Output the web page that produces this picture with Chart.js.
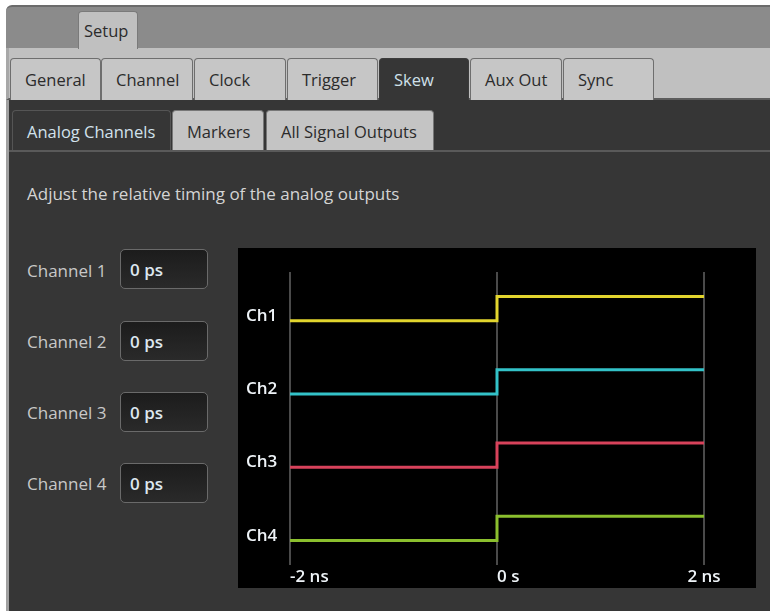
<!DOCTYPE html>
<html>
<head>
<meta charset="utf-8">
<script src="https://cdn.jsdelivr.net/npm/chart.js@4.4.1/dist/chart.umd.min.js"></script>
<style>
  body { margin: 0; width: 770px; height: 611px; background: #fff; font-family: "Open Sans", sans-serif; font-size: 16.5px; overflow: hidden; position: relative; }
  .abs { position: absolute; box-sizing: border-box; }
  #topband { left: 6px; top: 5px; width: 764px; height: 43px; background: #8b8b8b; border-top: 2px solid #6b6b6b; border-top-left-radius: 6px; }
  #tabrow { left: 6px; top: 48px; width: 764px; height: 52px; background: #c0c0c0; border-bottom: 2px solid #5c5c5c; border-left: 3px solid #a8a8a8; }
  #panel { left: 6px; top: 100px; width: 764px; height: 511px; background: #363636; border-left: 3px solid #a0a0a0; }
  .tab { height: 42px; top: 58px; background: #c6c6c6; border: 1px solid #6e6e6e; border-bottom: none; border-radius: 4px 4px 0 0; color: #2b2b2b; line-height: 42px; padding-left: 14px; white-space: nowrap; }
  .tab.active { background: #363636; border-color: #3c3c3c; color: #cfe0ea; }
  .sub { top: 110px; height: 40px; background: #c4c4c4; border: 1px solid #777; border-bottom: none; border-radius: 4px 4px 0 0; color: #2b2b2b; line-height: 42px; padding-left: 14px; white-space: nowrap; }
  .sub.active { background: #363636; border-color: #555; color: #d2e2ec; }
  #subline { left: 9px; top: 150px; width: 761px; height: 2px; background: #5a5a5a; }
  #setup { left: 78px; top: 11px; width: 60px; height: 38px; background: #c0c0c0; border: 1px solid #7a7a7a; border-bottom: none; border-radius: 4px 4px 0 0; color: #2b2b2b; line-height: 38px; padding-left: 5px; }
  #hint { left: 27px; top: 181px; color: #d4d4d4; font-size: 17px; line-height: 26px; white-space: nowrap; }
  .chlabel { left: 27px; color: #c8c8c8; font-size: 17px; line-height: 26px; white-space: nowrap; }
  .input { left: 120px; width: 88px; height: 40px; background: linear-gradient(#1c1c1c, #2a2a2a); border: 1.5px solid #6a6a6a; border-radius: 5px; color: #dde7ef; font-weight: 600; font-size: 17px; line-height: 40px; padding-left: 9px; }
  #plot { left: 238px; top: 248px; width: 518px; height: 340px; background: #000; }
</style>
</head>
<body>
<div class="abs" id="topband"></div>
<div class="abs" id="tabrow"></div>
<div class="abs" id="panel"></div>
<div class="abs" id="setup">Setup</div>

<div class="abs tab" style="left:10px;width:91px">General</div>
<div class="abs tab" style="left:101px;width:92px">Channel</div>
<div class="abs tab" style="left:194px;width:92px">Clock</div>
<div class="abs tab" style="left:287px;width:91px">Trigger</div>
<div class="abs tab active" style="left:379px;width:90px">Skew</div>
<div class="abs tab" style="left:470px;width:92px">Aux Out</div>
<div class="abs tab" style="left:563px;width:91px">Sync</div>

<div class="abs" id="subline"></div>
<div class="abs sub active" style="left:12px;width:159px">Analog Channels</div>
<div class="abs sub" style="left:172px;width:92px">Markers</div>
<div class="abs sub" style="left:266px;width:168px">All Signal Outputs</div>

<div class="abs" id="hint">Adjust the relative timing of the analog outputs</div>

<div class="abs chlabel" style="top:258px">Channel 1</div>
<div class="abs chlabel" style="top:329px">Channel 2</div>
<div class="abs chlabel" style="top:400px">Channel 3</div>
<div class="abs chlabel" style="top:471px">Channel 4</div>
<div class="abs input" id="in0" style="top:249px"></div>
<div class="abs input" id="in1" style="top:321px"></div>
<div class="abs input" id="in2" style="top:392px"></div>
<div class="abs input" id="in3" style="top:463px"></div>

<div class="abs" id="plot"><canvas id="skewChart" width="518" height="340"></canvas></div>

<script>
// channel names and skew settings
const channelNames = ['Ch1', 'Ch2', 'Ch3', 'Ch4'];
const skewValues = ['0 ps', '0 ps', '0 ps', '0 ps'];

// time axis (ns) and its labels
const edgeTimes = [-2, 0, 2];
const timeLabels = ['-2 ns', '0 s', '2 ns'];

// signal levels at each edge time (low before 0, high after)
const ch1Levels = [9, 10, 10];
const ch2Levels = [6, 7, 7];
const ch3Levels = [3, 4, 4];
const ch4Levels = [0, 1, 1];

// where the channel names sit on the level axis
const channelLabelValues = [9.2, 6.2, 3.2, 0.2];

const lineColors = ['#e2d52e', '#33c2c8', '#d8425b', '#8bbf2e'];

skewValues.forEach((v, i) => {
  document.getElementById('in' + i).textContent = v;
});

function toPoints(levels) {
  return edgeTimes.map((t, i) => ({ x: t, y: levels[i] }));
}

const allLevels = [ch1Levels, ch2Levels, ch3Levels, ch4Levels];

// x labels: first ones start at the grid line, last one is centred
const timeLabelPlugin = {
  id: 'timeLabels',
  afterDraw(chart) {
    const { ctx, chartArea } = chart;
    const xScale = chart.scales.x;
    ctx.save();
    ctx.font = '600 17px "Open Sans"';
    ctx.fillStyle = '#eef3f7';
    ctx.textBaseline = 'middle';
    edgeTimes.forEach((t, i) => {
      ctx.textAlign = i === edgeTimes.length - 1 ? 'center' : 'left';
      ctx.fillText(timeLabels[i], xScale.getPixelForValue(t), chartArea.bottom + 12);
    });
    ctx.restore();
  }
};

const ctx = document.getElementById('skewChart').getContext('2d');
new Chart(ctx, {
  type: 'line',
  data: {
    datasets: allLevels.map((levels, i) => ({
      label: channelNames[i],
      data: toPoints(levels),
      borderColor: lineColors[i],
      borderWidth: 3,
      pointRadius: 0,
      stepped: true,
      fill: false
    }))
  },
  options: {
    responsive: false,
    animation: false,
    devicePixelRatio: 1,
    layout: { padding: { left: 8, top: 24, right: 52, bottom: 0 } },
    plugins: { legend: { display: false }, tooltip: { enabled: false } },
    scales: {
      x: {
        type: 'linear',
        min: -2,
        max: 2,
        afterBuildTicks: (s) => { s.ticks = edgeTimes.map(v => ({ value: v })); },
        afterFit: (s) => { s.height = 23; },
        grid: { color: '#4a4a4a', lineWidth: 2, drawTicks: false },
        border: { display: false },
        ticks: { display: false }
      },
      y: {
        type: 'linear',
        min: -1,
        max: 11,
        afterBuildTicks: (s) => { s.ticks = channelLabelValues.map(v => ({ value: v })); },
        afterFit: (s) => { s.width = 44; },
        grid: { display: false },
        border: { display: false },
        ticks: {
          autoSkip: false,
          crossAlign: 'far',
          padding: 0,
          color: '#eef3f7',
          font: { family: 'Open Sans', size: 17, weight: '600' },
          callback: (v, i) => channelNames[i]
        }
      }
    }
  },
  plugins: [timeLabelPlugin]
});
</script>
</body>
</html>
